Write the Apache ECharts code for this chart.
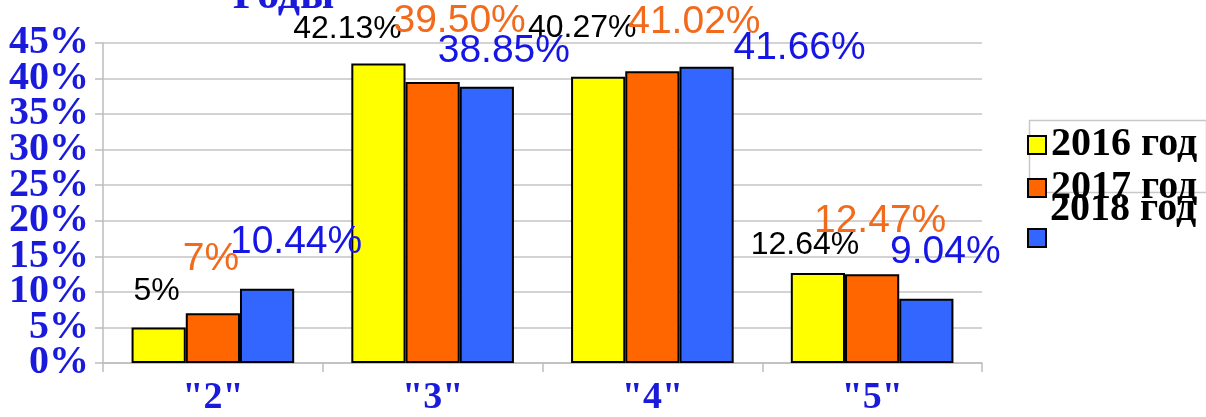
<!DOCTYPE html>
<html><head><meta charset="utf-8">
<script src="https://cdn.jsdelivr.net/npm/echarts@6/dist/echarts.min.js"></script>
<style>html,body{margin:0;padding:0;background:#fff}#c{width:1206px;height:417px}</style>
</head><body><div id="c"></div>
<script>
const categories = ['"2"', '"3"', '"4"', '"5"'];
const seriesNames = ['2016 год', '2017 год', '2018 год'];
const values2016 = [5, 42.13, 40.27, 12.64];
const values2017 = [7, 39.50, 41.02, 12.47];
const values2018 = [10.44, 38.85, 41.66, 9.04];
const yTicks = [0, 5, 10, 15, 20, 25, 30, 35, 40, 45];
const titleText = 'Годы';

// layout only: label offsets [dx, dy] relative to bar top
const labelOffsets = [
  [[-2, -20], [-31, -18], [-16, -32], [-13, -12]],
  [[-2, -34], [27, -41], [42, -30], [8, -34]],
  [[29, -27], [17, -16], [93, 1], [19, -27]]
];
const colors = ['#FFFF00', '#FF6600', '#3366FF'];
const labelColors = ['#000000', '#F26B1D', '#1515E6'];
const labelSizes = [32, 39, 39];
const allValues = [values2016, values2017, values2018];

function fmt(v) { return Number.isInteger(v) ? v + '%' : v.toFixed(2) + '%'; }

const series = allValues.map((vals, si) => ({
  name: seriesNames[si],
  type: 'bar',
  barGap: '0%',
  barCategoryGap: '26%',
  itemStyle: { color: colors[si], borderColor: '#000', borderWidth: 2 },
  data: vals.map((v, i) => ({
    value: v,
    label: {
      show: true, position: 'top', distance: 0,
      offset: labelOffsets[si][i],
      formatter: fmt(v),
      color: labelColors[si], fontSize: labelSizes[si], lineHeight: labelSizes[si],
      fontFamily: 'Liberation Sans, Arial, sans-serif'
    }
  }))
}));

const legendText = { fontFamily: 'Liberation Serif, serif', fontWeight: 'bold', fontSize: 40, color: '#000' };
const legendBase = {
  orient: 'vertical', left: 1027, itemWidth: 18, itemHeight: 18, itemGap: 4, padding: 0,
  icon: 'rect', textStyle: legendText, selectedMode: false
};

const step = yTicks[1] - yTicks[0];
function yAxisDef(parity, visibleLines) {
  return {
    type: 'value', min: yTicks[0], max: yTicks[yTicks.length - 1], interval: step, position: 'left',
    axisLine: { show: visibleLines, lineStyle: { color: '#BDBDBD', width: 1.5 } },
    axisTick: { show: visibleLines, length: 8, lineStyle: { color: '#BDBDBD', width: 1.5 } },
    splitLine: { show: visibleLines, lineStyle: { color: '#C4C4C4', width: 1.5 } },
    axisLabel: {
      margin: 14, showMinLabel: true, showMaxLabel: true,
      formatter: function (v) { return (Math.round(v / step) % 2 === parity) ? v + '%' : ''; },
      fontFamily: 'Liberation Serif, serif', fontWeight: 'bold', fontSize: 40, color: '#1A1ADC'
    }
  };
}

const chart = echarts.init(document.getElementById('c'));
chart.setOption({
  animation: false,
  title: {
    text: titleText, left: 228, top: -30,
    textStyle: { fontFamily: 'Liberation Serif, serif', fontWeight: 'bold', fontSize: 44, color: '#1A1ADC' }
  },
  grid: { left: 103, right: 224, top: 43, bottom: 53 },
  legend: [
    Object.assign({}, legendBase, { data: [seriesNames[0]], top: 125 }),
    Object.assign({}, legendBase, { data: [seriesNames[1]], top: 168 }),
    Object.assign({}, legendBase, { data: [{ name: seriesNames[2] }], top: 228, formatter: function () { return ''; } })
  ],
  graphic: [{
    type: 'rect', left: 1027, top: 118, z: -1,
    shape: { width: 177, height: 72 },
    style: { fill: 'none', stroke: '#C8C8C8', lineWidth: 1.5 }
  }, {
    type: 'text', left: 1050, top: 190, z: 10,
    style: { text: seriesNames[2], font: 'bold 40px "Liberation Serif", serif', fill: '#000' }
  }],
  xAxis: {
    type: 'category', data: categories,
    axisLine: { lineStyle: { color: '#BDBDBD', width: 1.5 } },
    axisTick: { show: true, length: 9, lineStyle: { color: '#BDBDBD', width: 1.5 } },
    axisLabel: { margin: 16, fontFamily: 'Liberation Serif, serif', fontWeight: 'bold', fontSize: 38, color: '#1A1ADC' }
  },
  yAxis: [yAxisDef(0, true), yAxisDef(1, false)],
  series: series
});
</script>
</body></html>
